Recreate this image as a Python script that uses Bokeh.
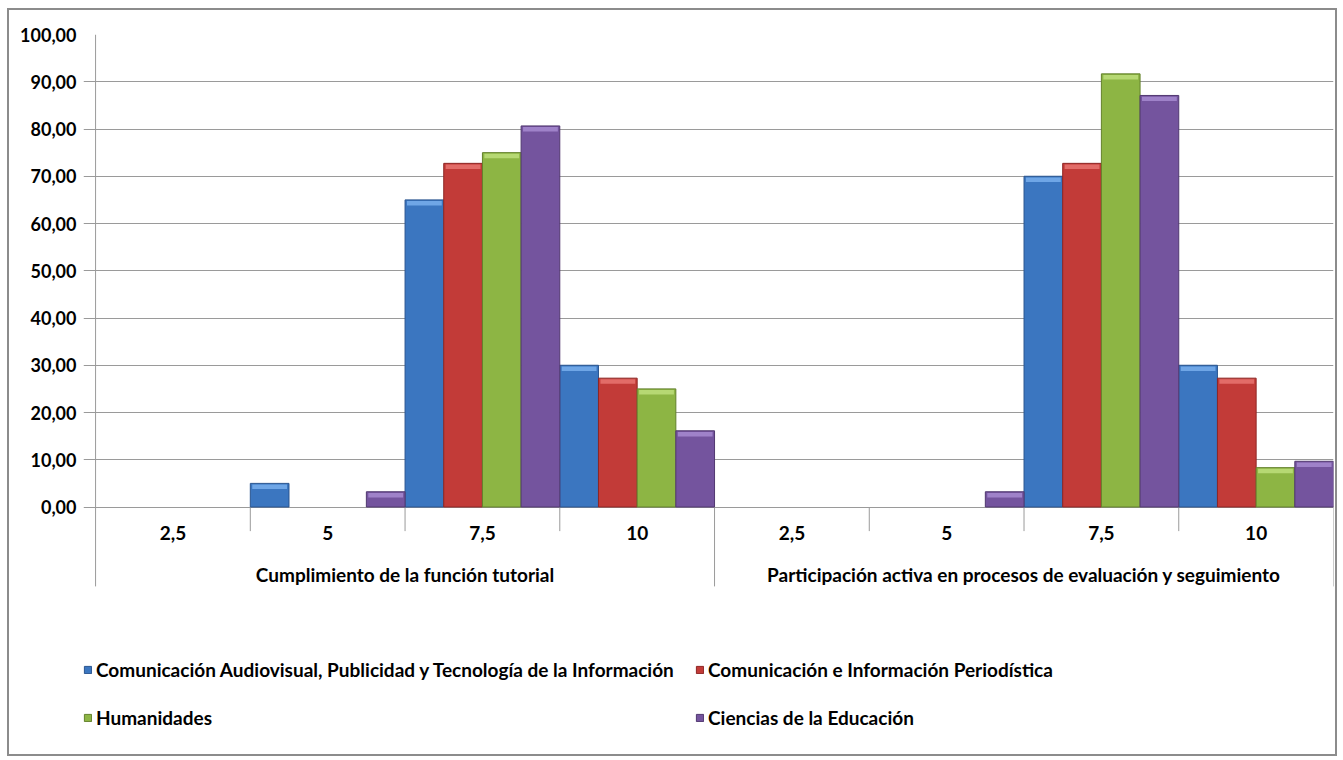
from bokeh.plotting import figure
from bokeh.models import Range1d, FixedTicker, Legend, LegendItem
from bokeh.core.properties import value
from bokeh.embed import file_html
from bokeh.resources import INLINE

# ---- data ----
groups = ["Cumplimiento de la función tutorial",
          "Participación activa en procesos de evaluación y seguimiento"]
scores = ["2,5", "5", "7,5", "10"]
series = ["Comunicación Audiovisual, Publicidad y Tecnología de la Información",
          "Comunicación e Información Periodística",
          "Humanidades",
          "Ciencias de la Educación"]
cav = [0.00, 5.00, 65.00, 30.00, 0.00, 0.00, 70.00, 30.00]
cip = [0.00, 0.00, 72.73, 27.27, 0.00, 0.00, 72.73, 27.27]
hum = [0.00, 0.00, 75.00, 25.00, 0.00, 0.00, 91.67, 8.33]
edu = [0.00, 3.23, 80.65, 16.13, 0.00, 3.23, 87.10, 9.68]
y_ticks = [0, 10, 20, 30, 40, 50, 60, 70, 80, 90, 100]

values = [cav, cip, hum, edu]
fills = ["#3b76c0", "#c23b38", "#8db544", "#74549e"]
caps = ["#6fa6e6", "#e26c68", "#b6d873", "#9f82c9"]
edges = ["#2a5590", "#8e2624", "#63812c", "#513870"]

FONT = "Lato"
GRAY = "#9a9a9a"
FS = "19px"

p = figure(width=1330, height=748, output_backend="svg", toolbar_location=None,
           x_range=Range1d(-0.078, 8), y_range=Range1d(-52.8, 100),
           x_axis_location=None,
           min_border_left=74, min_border_right=6, min_border_top=24, min_border_bottom=2)
p.styles = {"border": "2px solid #8c8c8c", "margin-left": "7px", "margin-top": "8px"}
p.outline_line_color = None
p.background_fill_color = "white"
p.border_fill_color = "white"

p.xgrid.visible = False
p.yaxis.ticker = FixedTicker(ticks=y_ticks)
p.ygrid.ticker = FixedTicker(ticks=y_ticks)
p.ygrid.grid_line_color = GRAY
p.ygrid.grid_line_width = 1
p.yaxis.major_label_overrides = {t: f"{t},00" for t in y_ticks}
p.yaxis.axis_line_color = None
p.yaxis.major_tick_out = 0
p.yaxis.major_tick_in = 0
p.yaxis.major_tick_line_color = None
p.yaxis.minor_tick_line_color = None
p.yaxis.major_label_standoff = 7
p.yaxis.major_label_text_font = FONT
p.yaxis.major_label_text_font_style = "bold"
p.yaxis.major_label_text_font_size = "18px"
p.yaxis.major_label_text_color = "black"

# axis line + category separators
n = len(groups) * len(scores)
xb = list(range(n + 1))
y_top = [100 if b == 0 else 0 for b in xb]
y_bot = [-16.8 if b % len(scores) == 0 else -5.1 for b in xb]
p.segment(x0=xb, y0=y_top, x1=xb, y1=y_bot, line_color=GRAY, line_width=1)

# bars
bw = 1.0 / len(series)
renderers = []
for k, vals in enumerate(values):
    xs = [j + bw / 2 + bw * k for j in range(n) if vals[j] > 0]
    tops = [v for v in vals if v > 0]
    r = p.vbar(x=xs, top=tops, bottom=0, width=bw, fill_color=fills[k],
               line_color=edges[k], line_width=1)
    p.vbar(x=xs, top=[t - 0.25 for t in tops], bottom=[t - 1.2 for t in tops],
           width=bw * 0.9, fill_color=caps[k], line_color=None)
    renderers.append(r)

# category labels
p.text(x=[j + 0.5 for j in range(n)], y=[-5.6] * n,
       text=[scores[j % len(scores)] for j in range(n)],
       text_align="center", text_baseline="middle", text_font=value(FONT),
       text_font_style="bold", text_font_size=FS, text_color="black")
p.text(x=[len(scores) * (g + 0.5) for g in range(len(groups))], y=[-14.3] * len(groups),
       text=groups, text_align="center", text_baseline="middle", text_font=value(FONT),
       text_font_style="bold", text_font_size=FS, text_color="black")

def make_legend(idx, loc):
    leg = Legend(items=[LegendItem(label=series[i], renderers=[renderers[i]]) for i in idx],
                 location=loc, orientation="vertical")
    leg.border_line_color = None
    leg.background_fill_alpha = 0
    leg.padding = 0
    leg.margin = 0
    leg.spacing = 25
    leg.glyph_width = 9
    leg.glyph_height = 9
    leg.label_height = 20
    leg.label_standoff = 4
    leg.label_text_font = FONT
    leg.label_text_font_style = "bold"
    leg.label_text_font_size = FS
    leg.label_text_color = "black"
    return leg

p.add_layout(make_legend([0, 2], (0, 27)))
p.add_layout(make_legend([1, 3], (612, 27)))

open("out.html", "w").write(file_html(p, INLINE))
